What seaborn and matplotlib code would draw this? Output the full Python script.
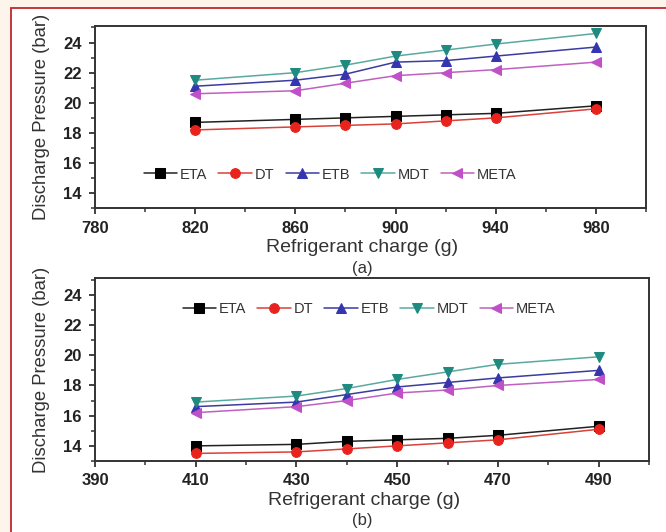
import matplotlib
matplotlib.use("Agg")
import matplotlib.pyplot as plt
from matplotlib.patches import Rectangle
import seaborn as sns

# (a) larger charge range
charge_a = [820, 860, 880, 900, 920, 940, 980]
eta_a = [18.7, 18.9, 19.0, 19.1, 19.2, 19.3, 19.8]
dt_a = [18.2, 18.4, 18.5, 18.6, 18.8, 19.0, 19.6]
etb_a = [21.1, 21.5, 21.9, 22.7, 22.8, 23.1, 23.7]
mdt_a = [21.5, 22.0, 22.5, 23.1, 23.5, 23.9, 24.6]
meta_a = [20.6, 20.8, 21.3, 21.8, 22.0, 22.2, 22.7]
xticks_a = [780, 820, 860, 900, 940, 980]
xminor_a = [800, 840, 880, 920, 960, 1000]

# (b) smaller charge range
charge_b = [410, 430, 440, 450, 460, 470, 490]
eta_b = [14.0, 14.1, 14.3, 14.4, 14.5, 14.7, 15.3]
dt_b = [13.5, 13.6, 13.8, 14.0, 14.2, 14.4, 15.1]
etb_b = [16.6, 16.9, 17.4, 17.9, 18.2, 18.5, 19.0]
mdt_b = [16.9, 17.3, 17.8, 18.4, 18.9, 19.4, 19.9]
meta_b = [16.2, 16.6, 17.0, 17.5, 17.7, 18.0, 18.4]
xticks_b = [390, 410, 430, 450, 470, 490]
xminor_b = [400, 420, 440, 460, 480, 500]

yticks = [14, 16, 18, 20, 22, 24]
yminor = [13, 15, 17, 19, 21, 23, 25]

names = ["ETA", "DT", "ETB", "MDT", "META"]
markers = ["s", "o", "^", "v", "<"]
line_colors = ["#222222", "#d9413a", "#3b3ba0", "#5aa9a0", "#c060c0"]
marker_colors = ["#000000", "#e8231e", "#3535b0", "#1e8a80", "#c050c8"]

sns.set_style("ticks")
plt.rcParams["font.family"] = ["Liberation Sans", "DejaVu Sans"]

fig = plt.figure(figsize=(6.66, 5.32), dpi=100, facecolor="#fdf5ec")
fig.add_artist(Rectangle((11 / 666, -0.1), 1.2, 1.1 - 7.5 / 532,
                         transform=fig.transFigure, facecolor="white",
                         edgecolor="#c0282d", linewidth=1.3, zorder=0))

ax_a = fig.add_axes([0.1426, 0.6085, 0.8273, 0.3427])
ax_b = fig.add_axes([0.1426, 0.1335, 0.8318, 0.3434])

panels = [
    (ax_a, charge_a, [eta_a, dt_a, etb_a, mdt_a, meta_a], (780, 1000), xticks_a, xminor_a, (0.427, 0.185)),
    (ax_b, charge_b, [eta_b, dt_b, etb_b, mdt_b, meta_b], (390, 500), xticks_b, xminor_b, (0.495, 0.832)),
]

for ax, xs, series, xlim, xt, xm, leg_pos in panels:
    for name, ys, mk, lc, mc in zip(names, series, markers, line_colors, marker_colors):
        sns.lineplot(x=xs, y=ys, ax=ax, color=lc, linewidth=1.1, marker=mk,
                     markersize=7, markerfacecolor=mc, markeredgecolor=mc,
                     label=name)
    ax.set_xlim(*xlim)
    ax.set_ylim(13, 25.1)
    ax.set_xticks(xt)
    ax.set_xticks(xm, minor=True)
    ax.set_yticks(yticks)
    ax.set_yticks(yminor, minor=True)
    ax.tick_params(which="major", direction="out", length=4.5, width=1.3,
                   color="#333333", labelsize=12)
    ax.tick_params(axis="x", which="major", pad=4.5)
    ax.tick_params(axis="y", which="major", pad=5)
    ax.tick_params(which="minor", direction="out", length=3, width=1.1,
                   color="#333333")
    for lab in ax.get_xticklabels() + ax.get_yticklabels():
        lab.set_fontweight("bold")
        lab.set_color("#222222")
    for sp in ax.spines.values():
        sp.set_linewidth(1.4)
        sp.set_color("#333333")
    ax.set_xlabel("Refrigerant charge (g)", fontsize=14, color="#333333")
    ax.set_ylabel("Discharge Pressure (bar)", fontsize=13.3, color="#333333")
    ax.xaxis.set_label_coords(0.485, -0.17)
    ax.yaxis.set_label_coords(-0.082, 0.5)
    ax.legend(ncol=5, frameon=False, loc="center", bbox_to_anchor=leg_pos,
              fontsize=10.5, handlelength=2.3, handletextpad=0.2,
              columnspacing=0.75, labelcolor="#333333")

fig.text(362 / 666, 1 - 268 / 532, "(a)", ha="center", va="center", fontsize=12, color="#333333")
fig.text(362 / 666, 1 - 521 / 532, "(b)", ha="center", va="center", fontsize=12, color="#333333")

fig.savefig("out.png", dpi=100, facecolor=fig.get_facecolor())
